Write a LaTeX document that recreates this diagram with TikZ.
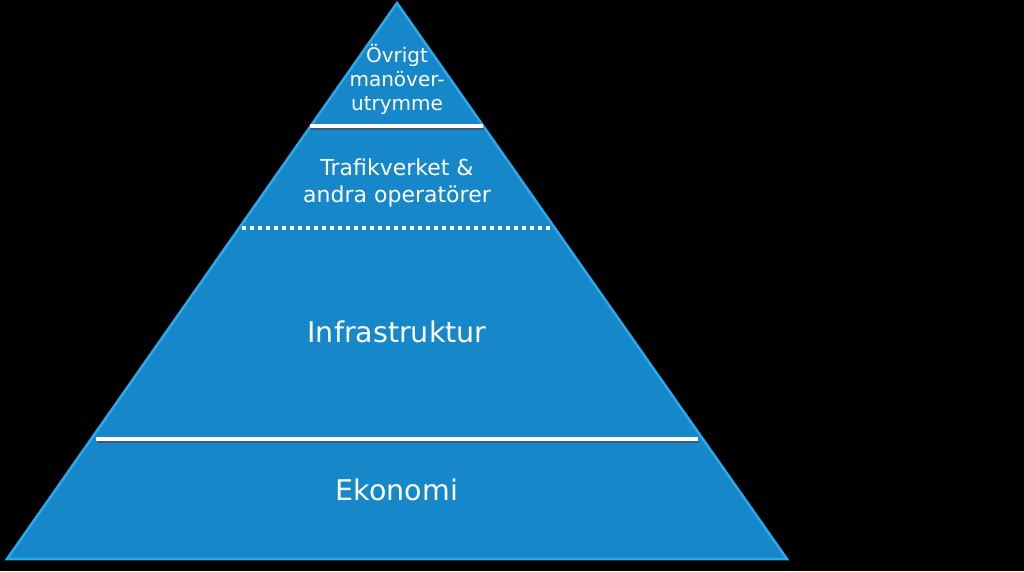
\documentclass[tikz,border=0pt]{standalone}
\usepackage{fontspec}
\setmainfont{DejaVu Sans}
\definecolor{pyrfill}{RGB}{22,135,200}
\definecolor{pyredge}{RGB}{40,170,235}
\definecolor{shadowc}{RGB}{60,90,120}
\tikzset{
  toplbl/.style={text=white, align=center, font=\fontsize{20}{24}\selectfont},
  lbl/.style={text=white, align=center, font=\fontsize{22}{27}\selectfont},
  biglbl/.style={text=white, align=center, font=\fontsize{28.5}{32}\selectfont},
  sepline/.style={white, line width=4pt},
  shadowline/.style={shadowc, line width=2pt},
  dotline/.style={white, line width=4pt, dash pattern=on 4pt off 4pt},
}
\begin{document}
\begin{tikzpicture}[x=1pt,y=-1pt]
\fill[black] (0,0) rectangle (1024,571);
\useasboundingbox (0,0) rectangle (1024,571);
\coordinate (apex) at (397,3);
\coordinate (bl) at (7,559);
\coordinate (br) at (787,559);
\draw[pyredge, fill=pyrfill, line width=2.5pt, line join=miter] (apex) -- (br) -- (bl) -- cycle;
\coordinate (l1a) at (310,126); \coordinate (l1b) at (483,126);
\coordinate (s1a) at (311,129); \coordinate (s1b) at (484,129);
\coordinate (l2a) at (242,228); \coordinate (l2b) at (550,228);
\coordinate (l3a) at (96,439); \coordinate (l3b) at (698,439);
\coordinate (s3a) at (97,442); \coordinate (s3b) at (699,442);
\draw[shadowline] (s1a) -- (s1b);
\draw[shadowline] (s3a) -- (s3b);
\draw[sepline] (l1a) -- (l1b);
\draw[dotline] (l2a) -- (l2b);
\draw[sepline] (l3a) -- (l3b);
\node[toplbl] (t1) at (397,79) {Övrigt\\manöver-\\utrymme};
\node[lbl] (t2) at (397,183) {Trafikverket \&\\andra operatörer};
\node[biglbl] (t3) at (397,332) {Infrastruktur};
\node[biglbl] (t4) at (397,490) {Ekonomi};
\end{tikzpicture}
\end{document}
